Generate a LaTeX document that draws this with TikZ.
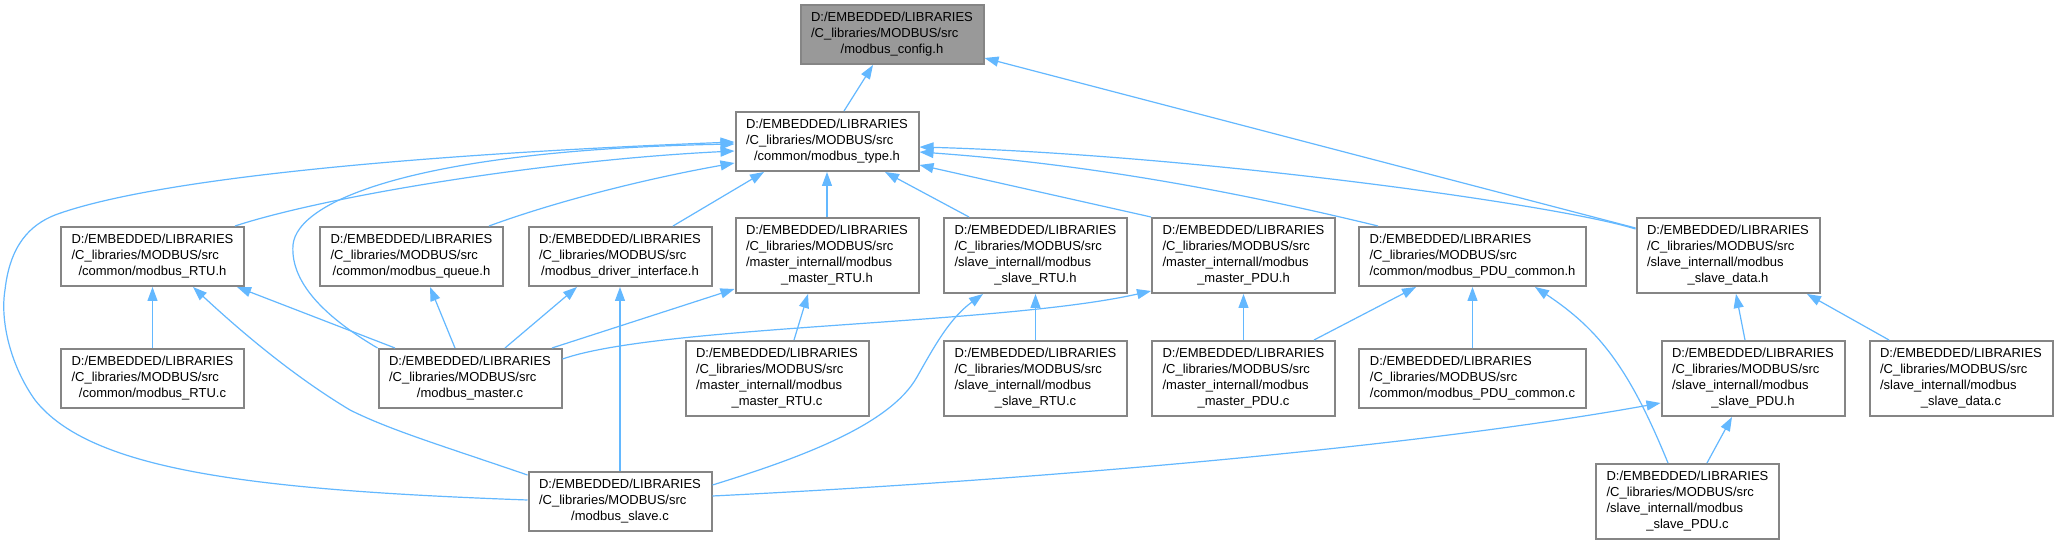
\documentclass[tikz,border=0pt]{standalone}
\usepackage{fontspec}
\setmainfont{Liberation Sans}
\usetikzlibrary{arrows.meta}
\definecolor{edgeblue}{HTML}{63B8FF}
\definecolor{boxgray}{HTML}{858585}
\definecolor{cfgfill}{HTML}{999999}
\tikzset{fbox/.style={draw=boxgray,line width=1pt,fill=white,inner sep=0pt,
    minimum width=91.5pt,minimum height=29.5pt,
    font=\fontsize{6.5}{8}\selectfont}}
\tikzset{fboxD/.style={fbox,minimum height=37.5pt}}
\tikzset{fboxW/.style={fbox,minimum width=113.5pt}}
\tikzset{cfgbox/.style={fbox,fill=cfgfill}}
\tikzset{incl/.style={draw=edgeblue,line width=0.6pt,
    -{Triangle[length=7pt,width=5pt]}}}
\newcommand{\fpre}{D:/EMBEDDED/LIBRARIES\\/C\_libraries/MODBUS/src}
\newcommand{\flab}[2]{\begin{tabular}{@{}l@{}}#1\\\multicolumn{1}{@{}c@{}}{#2}\end{tabular}}

\begin{document}
\begin{tikzpicture}[x=0.5pt,y=-0.5pt]

\pgfmathsetmacro{\yA}{34.5}
\pgfmathsetmacro{\yB}{141.5}
\pgfmathsetmacro{\yC}{256.5}
\pgfmathsetmacro{\yD}{378.5}
\pgfmathsetmacro{\yE}{501.5}

\fill[white] (0,0) rectangle (2058,544);
\useasboundingbox (0,0) rectangle (2058,544);

% headers
\node[cfgbox] (config) at (892,\yA) {\flab{\fpre}{/modbus\_config.h}};
\node[fbox] (type) at (827,\yB) {\flab{\fpre}{/common/modbus\_type.h}};

% 2nd row
\node[fbox] (RTUh) at (152.5,\yC) {\flab{\fpre}{/common/modbus\_RTU.h}};
\node[fbox] (queueh) at (411.5,\yC) {\flab{\fpre}{/common/modbus\_queue.h}};
\node[fbox] (driverh) at (620,\yC) {\flab{\fpre}{/modbus\_driver\_interface.h}};
\node[fboxD] (mRTUh) at (827,\yC-1) {\flab{\fpre\\/master\_internall/modbus}{\_master\_RTU.h}};
\node[fboxD] (sRTUh) at (1035.5,\yC-1) {\flab{\fpre\\/slave\_internall/modbus}{\_slave\_RTU.h}};
\node[fboxD] (mPDUh) at (1243.5,\yC-1) {\flab{\fpre\\/master\_internall/modbus}{\_master\_PDU.h}};
\node[fboxW] (PDUh) at (1472.5,\yC) {\flab{\fpre}{/common/modbus\_PDU\_common.h}};
\node[fboxD] (sdatah) at (1728,\yC-1) {\flab{\fpre\\/slave\_internall/modbus}{\_slave\_data.h}};

% 3rd row
\node[fbox] (RTUc) at (152.5,\yD) {\flab{\fpre}{/common/modbus\_RTU.c}};
\node[fbox] (masterc) at (470,\yD) {\flab{\fpre}{/modbus\_master.c}};
\node[fboxD] (mRTUc) at (777,\yD) {\flab{\fpre\\/master\_internall/modbus}{\_master\_RTU.c}};
\node[fboxD] (sRTUc) at (1035.5,\yD) {\flab{\fpre\\/slave\_internall/modbus}{\_slave\_RTU.c}};
\node[fboxD] (mPDUc) at (1243.5,\yD) {\flab{\fpre\\/master\_internall/modbus}{\_master\_PDU.c}};
\node[fboxW] (PDUc) at (1472.5,\yD) {\flab{\fpre}{/common/modbus\_PDU\_common.c}};
\node[fboxD] (sPDUh) at (1753,\yD) {\flab{\fpre\\/slave\_internall/modbus}{\_slave\_PDU.h}};
\node[fboxD] (sdatac) at (1961,\yD) {\flab{\fpre\\/slave\_internall/modbus}{\_slave\_data.c}};

% bottom row
\node[fbox] (slavec) at (620,\yE) {\flab{\fpre}{/modbus\_slave.c}};
\node[fboxD] (sPDUc) at (1687.5,\yE) {\flab{\fpre\\/slave\_internall/modbus}{\_slave\_PDU.c}};

% -> modbus_config.h
\draw[incl] (type.north -| 844,0) -- (config.south -| 873,0);
\draw[incl] (sdatah.west |- 0,228) -- (config.east |- 0,58);

% -> modbus_type.h
\draw[incl] (RTUh.north -| 235,0)
    .. controls (330,195) and (550,160) .. (type.west |- 0,151);
\draw[incl] (masterc.north west)
    .. controls (330,320) and (290,285) .. (293,245)
    .. controls (297,200) and (420,150) .. (type.west |- 0,144);
\draw[incl] (slavec.west |- 0,500)
    .. controls (250,490) and (90,470) .. (35,400)
    .. controls (10,365) and (0,320) .. (5,290)
    .. controls (10,245) and (30,225) .. (55,215)
    .. controls (150,180) and (400,155) .. (type.west |- 0,142);
\draw[incl] (queueh.north -| 489,0)
    .. controls (560,200) and (650,178) .. (type.west |- 0,163);
\draw[incl] (driverh.north -| 673,0) -- (type.south -| 764,0);
\draw[incl] (mRTUh.north) -- (type.south);
\draw[incl] (sRTUh.north -| 969,0) -- (type.south -| 885,0);
\draw[incl] (mPDUh.north west) -- (type.east |- 0,165);
\draw[incl] (PDUh.north -| 1378,0)
    .. controls (1250,195) and (1100,165) .. (type.east |- 0,152);
\draw[incl] (sdatah.west |- 0,229)
    .. controls (1560,205) and (1200,155) .. (type.east |- 0,147);

% 2nd row headers
\draw[incl] (RTUc.north) -- (RTUh.south);
\draw[incl] (slavec.west |- 0,475)
    .. controls (440,445) and (390,430) .. (350,410)
    .. controls (300,380) and (250,340) .. (RTUh.south -| 193,0);
\draw[incl] (masterc.north -| 395,0) -- (RTUh.south -| 237,0);
\draw[incl] (masterc.north -| 455,0) -- (queueh.south -| 430,0);
\draw[incl] (masterc.north -| 505,0) -- (driverh.south -| 577,0);
\draw[incl] (masterc.north -| 552,0) -- (mRTUh.west |- 0,289);
\draw[incl] (masterc.east |- 0,359)
    .. controls (660,325) and (1000,325) .. (mPDUh.west |- 0,291);
\draw[incl] (slavec.north) -- (driverh.south);
\draw[incl] (mRTUc.north -| 794,0) -- (mRTUh.south -| 808,0);
\draw[incl] (slavec.east |- 0,485)
    .. controls (800,458) and (890,425) .. (917,377)
    .. controls (935,345) and (950,318) .. (sRTUh.south -| 983,0);
\draw[incl] (sRTUc.north) -- (sRTUh.south);
\draw[incl] (mPDUc.north) -- (mPDUh.south);
\draw[incl] (mPDUc.north -| 1314,0) -- (PDUh.south -| 1416,0);
\draw[incl] (PDUc.north) -- (PDUh.south);
\draw[incl] (sPDUc.north -| 1668,0)
    .. controls (1630,370) and (1600,330) .. (PDUh.south -| 1535,0);
\draw[incl] (sPDUh.north -| 1745,0) -- (sdatah.south -| 1736,0);
\draw[incl] (sdatac.north -| 1889,0) -- (sdatah.south -| 1807,0);

% -> modbus_slave_PDU.h
\draw[incl] (sPDUc.north -| 1707,0) -- (sPDUh.south -| 1732,0);
\draw[incl] (slavec.east |- 0,496)
    .. controls (1000,482) and (1400,450) .. (sPDUh.west |- 0,403);

\end{tikzpicture}
\end{document}
